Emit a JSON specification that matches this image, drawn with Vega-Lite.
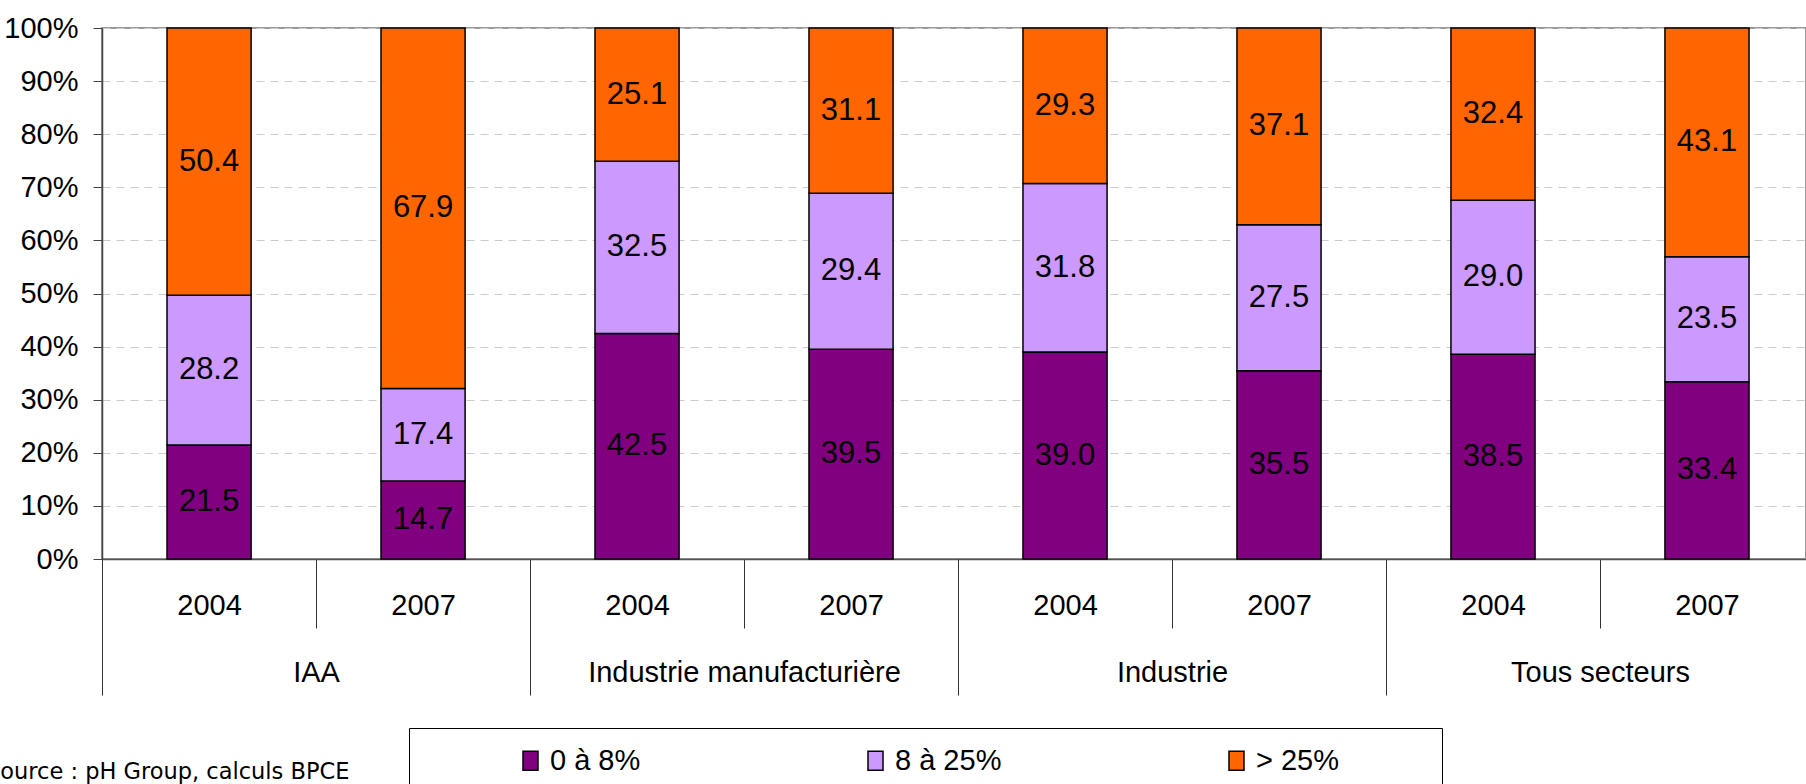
{
  "$schema": "https://vega.github.io/schema/vega-lite/v6.json",
  "width": 1704,
  "height": 531,
  "autosize": {"type": "none"},
  "padding": {"left": 102, "top": 28, "right": 0, "bottom": 225},
  "background": "white",
  "config": {"view": {"stroke": "#999999", "strokeWidth": 2}, "font": "Liberation Sans"},
  "title": {
    "text": "Source : pH Group, calculs BPCE",
    "orient": "top",
    "anchor": "start",
    "frame": "group",
    "font": "DejaVu Sans",
    "fontSize": 22.5,
    "fontWeight": "normal",
    "color": "black",
    "baseline": "alphabetic",
    "dx": -116,
    "dy": 787,
    "offset": 0
  },
  "data": {
    "values": [
      {"key": "IAA|2004", "group": "IAA", "year": "2004", "cat": "0 à 8%", "pct": 21.5},
      {"key": "IAA|2004", "group": "IAA", "year": "2004", "cat": "8 à 25%", "pct": 28.2},
      {"key": "IAA|2004", "group": "IAA", "year": "2004", "cat": "> 25%", "pct": 50.4},
      {"key": "IAA|2007", "group": "IAA", "year": "2007", "cat": "0 à 8%", "pct": 14.7},
      {"key": "IAA|2007", "group": "IAA", "year": "2007", "cat": "8 à 25%", "pct": 17.4},
      {"key": "IAA|2007", "group": "IAA", "year": "2007", "cat": "> 25%", "pct": 67.9},
      {"key": "Industrie manufacturière|2004", "group": "Industrie manufacturière", "year": "2004", "cat": "0 à 8%", "pct": 42.5},
      {"key": "Industrie manufacturière|2004", "group": "Industrie manufacturière", "year": "2004", "cat": "8 à 25%", "pct": 32.5},
      {"key": "Industrie manufacturière|2004", "group": "Industrie manufacturière", "year": "2004", "cat": "> 25%", "pct": 25.1},
      {"key": "Industrie manufacturière|2007", "group": "Industrie manufacturière", "year": "2007", "cat": "0 à 8%", "pct": 39.5},
      {"key": "Industrie manufacturière|2007", "group": "Industrie manufacturière", "year": "2007", "cat": "8 à 25%", "pct": 29.4},
      {"key": "Industrie manufacturière|2007", "group": "Industrie manufacturière", "year": "2007", "cat": "> 25%", "pct": 31.1},
      {"key": "Industrie|2004", "group": "Industrie", "year": "2004", "cat": "0 à 8%", "pct": 39.0},
      {"key": "Industrie|2004", "group": "Industrie", "year": "2004", "cat": "8 à 25%", "pct": 31.8},
      {"key": "Industrie|2004", "group": "Industrie", "year": "2004", "cat": "> 25%", "pct": 29.3},
      {"key": "Industrie|2007", "group": "Industrie", "year": "2007", "cat": "0 à 8%", "pct": 35.5},
      {"key": "Industrie|2007", "group": "Industrie", "year": "2007", "cat": "8 à 25%", "pct": 27.5},
      {"key": "Industrie|2007", "group": "Industrie", "year": "2007", "cat": "> 25%", "pct": 37.1},
      {"key": "Tous secteurs|2004", "group": "Tous secteurs", "year": "2004", "cat": "0 à 8%", "pct": 38.5},
      {"key": "Tous secteurs|2004", "group": "Tous secteurs", "year": "2004", "cat": "8 à 25%", "pct": 29.0},
      {"key": "Tous secteurs|2004", "group": "Tous secteurs", "year": "2004", "cat": "> 25%", "pct": 32.4},
      {"key": "Tous secteurs|2007", "group": "Tous secteurs", "year": "2007", "cat": "0 à 8%", "pct": 33.4},
      {"key": "Tous secteurs|2007", "group": "Tous secteurs", "year": "2007", "cat": "8 à 25%", "pct": 23.5},
      {"key": "Tous secteurs|2007", "group": "Tous secteurs", "year": "2007", "cat": "> 25%", "pct": 43.1}
    ]
  },
  "transform": [
    {"stack": "pct", "groupby": ["key"], "sort": [{"field": "cat", "order": "ascending"}], "as": ["y0", "y1"], "offset": "normalize"}
  ],
  "layer": [
    {
      "mark": {"type": "bar", "stroke": "black", "strokeWidth": 1.5},
      "encoding": {
        "x": {
          "field": "key", "type": "nominal",
          "sort": ["IAA|2004", "IAA|2007", "Industrie manufacturière|2004", "Industrie manufacturière|2007", "Industrie|2004", "Industrie|2007", "Tous secteurs|2004", "Tous secteurs|2007"],
          "scale": {"paddingInner": 0.607, "paddingOuter": 0.285, "align": 0.533},
          "axis": {
            "title": null,
            "orient": "bottom",
            "labelExpr": "split(datum.value, '|')[1]",
            "labelAngle": 0,
            "labelFont": "Liberation Sans",
            "labelFontSize": 29,
            "labelColor": "black",
            "labelPadding": -37,
            "labelOffset": 107,
            "labelOverlap": false,
            "tickOffset": -107,
            "tickSize": 69,
            "tickColor": "#333333",
            "tickWidth": 1,
            "domainColor": "#555555",
            "domainWidth": 1.5,
            "grid": false
          }
        },
        "y": {
          "field": "y1", "type": "quantitative",
          "scale": {"domain": [0, 1]},
          "axis": {
            "title": null,
            "format": ".0%",
            "values": [0, 0.1, 0.2, 0.3, 0.4, 0.5, 0.6, 0.7, 0.8, 0.9, 1],
            "labelFont": "Liberation Sans",
            "labelFontSize": 29,
            "labelColor": "black",
            "labelPadding": 15,
            "tickSize": 9,
            "tickColor": "#444444",
            "domainColor": "#444444",
            "domainWidth": 1.5,
            "grid": true,
            "gridColor": "#cccccc",
            "gridDash": [8, 6],
            "gridWidth": 1
          }
        },
        "y2": {"field": "y0"},
        "color": {
          "field": "cat", "type": "nominal",
          "scale": {"domain": ["0 à 8%", "8 à 25%", "> 25%"], "range": ["#800080", "#CC99FF", "#FF6600"]},
          "legend": {
            "orient": "none",
            "legendX": 307,
            "legendY": 700,
            "direction": "horizontal",
            "title": null,
            "strokeColor": "black",
            "fillColor": "white",
            "padding": 18,
            "symbolType": "M-0.79,-1H0.79V1H-0.79Z",
            "symbolSize": 361,
            "symbolStrokeColor": "black",
            "symbolStrokeWidth": 1.5,
            "symbolOffset": 89,
            "labelOffset": 5,
            "labelLimit": 500,
            "labelExpr": "indexof(datum.label, '>') >= 0 ? datum.label + '\u2800\u2800\u2800\u2800' : datum.label",
            "labelFont": "Liberation Sans",
            "labelFontSize": 29,
            "labelColor": "black",
            "columnPadding": 131
          }
        }
      }
    },
    {
      "transform": [{"fold": ["y0", "y1"], "as": ["edge", "ypos"]}],
      "mark": {"type": "text", "font": "Liberation Sans", "fontSize": 31, "color": "black"},
      "encoding": {
        "x": {
          "field": "key", "type": "nominal",
          "sort": ["IAA|2004", "IAA|2007", "Industrie manufacturière|2004", "Industrie manufacturière|2007", "Industrie|2004", "Industrie|2007", "Tous secteurs|2004", "Tous secteurs|2007"],
          "axis": null
        },
        "y": {"field": "ypos", "type": "quantitative", "aggregate": "mean", "stack": null},
        "detail": {"field": "cat"},
        "text": {"field": "pct", "type": "quantitative", "format": ".1f"}
      }
    },
    {
      "mark": {"type": "rule", "opacity": 0},
      "encoding": {
        "x": {
          "field": "key", "type": "nominal",
          "sort": ["IAA|2004", "IAA|2007", "Industrie manufacturière|2004", "Industrie manufacturière|2007", "Industrie|2004", "Industrie|2007", "Tous secteurs|2004", "Tous secteurs|2007"],
          "axis": {
            "title": null,
            "orient": "bottom",
            "labelExpr": "split(datum.value, '|')[1] == '2004' ? split(datum.value, '|')[0] : ''",
            "labelAngle": 0,
            "labelOffset": 214,
            "labelLimit": 600,
            "labelFont": "Liberation Sans",
            "labelFontSize": 29,
            "labelColor": "black",
            "labelPadding": -37,
            "labelOverlap": false,
            "tickOffset": -107,
            "tickSize": 136,
            "tickColor": "#333333",
            "tickWidth": 1,
            "tickOpacity": {"condition": {"test": "indexof(datum.value, '2004') >= 0", "value": 1}, "value": 0},
            "domain": false,
            "grid": false
          }
        }
      }
    }
  ],
  "resolve": {"axis": {"x": "independent"}}
}
